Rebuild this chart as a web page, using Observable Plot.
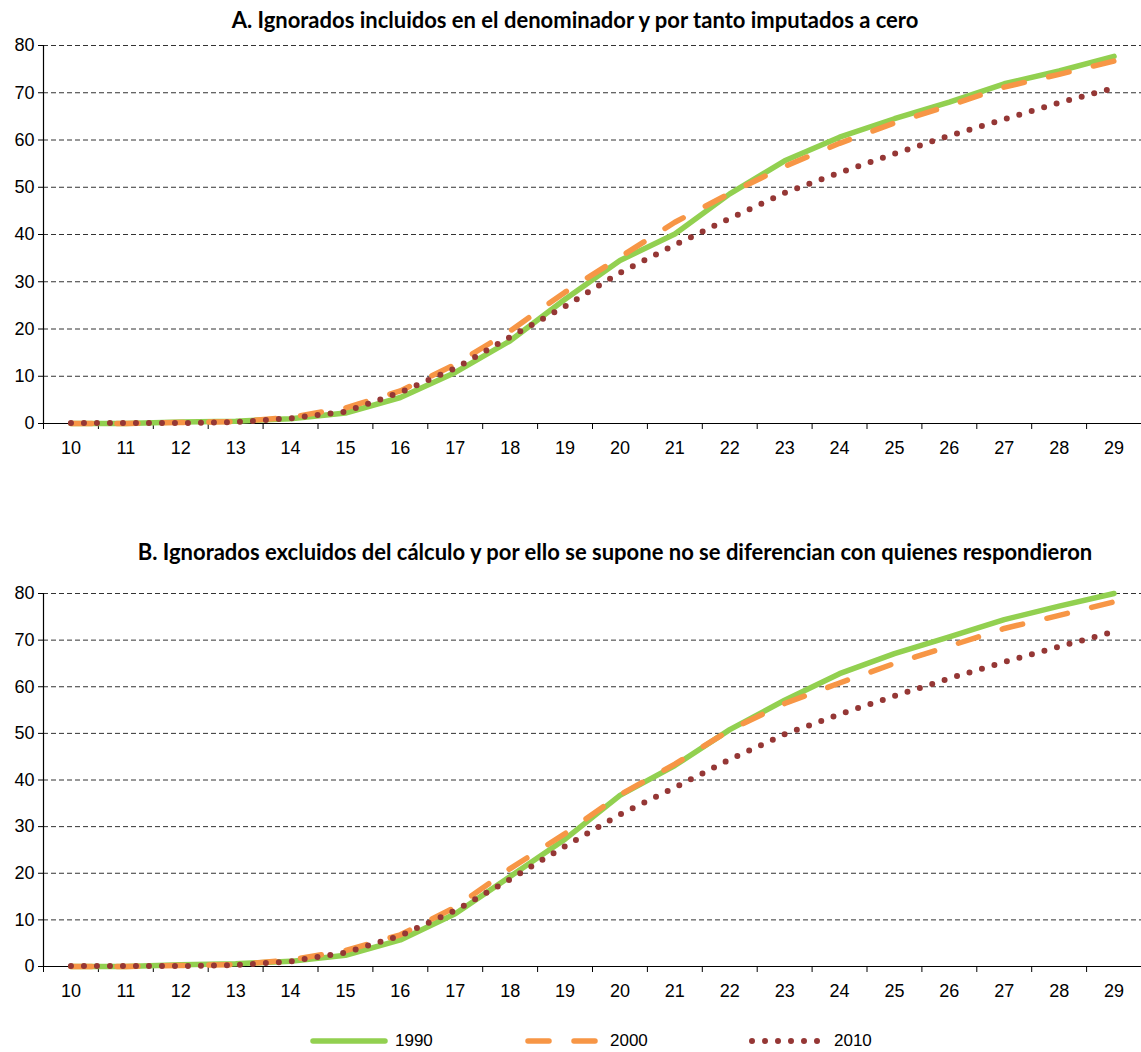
<!DOCTYPE html>
<html><head><meta charset="utf-8">
<script src="https://cdn.jsdelivr.net/npm/d3@7"></script>
<script src="https://cdn.jsdelivr.net/npm/@observablehq/plot@0.6"></script>
<style>
body{margin:0;background:#fff;width:1141px;height:1052px;position:relative;overflow:hidden;font-family:"Liberation Sans",Arial,sans-serif;color:#000}
.title{position:absolute;z-index:5;font-family:Lato,"Open Sans",sans-serif;font-weight:700;font-size:22px;white-space:nowrap;transform:translate(-50%,-50%);color:#000}
.panel{position:absolute;left:0}
.leg{position:absolute;top:1031px;height:20px;display:flex;align-items:center;font-size:17px}
.leg svg{margin-right:7px}
</style></head><body>
<div class="panel" id="pA" style="top:0px"></div>
<div class="panel" id="pB" style="top:520px"></div>
<div class="title" id="tA" style="left:575px;top:19px"></div>
<div class="title" id="tB" style="left:615px;top:551px"></div>
<div id="legend"></div>
<script>
const ages = [10,11,12,13,14,15,16,17,18,19,20,21,22,23,24,25,26,27,28,29];
const seriesNames = ["1990","2000","2010"];
const titleA = "A. Ignorados incluidos en el denominador y por tanto imputados a cero";
const titleB = "B. Ignorados excluidos del cálculo y por ello se supone no se diferencian con quienes respondieron";
const yTicks = [0,10,20,30,40,50,60,70,80];

const A1990 = [0,0,0.3,0.5,1.0,2.2,5.5,10.8,17.5,26.3,34.5,40.1,48.6,55.6,60.6,64.5,68.0,71.9,74.6,77.7];
const A2000 = [0,0,0.2,0.4,1.3,3.3,6.9,12.5,19.6,27.8,35.2,42.6,48.7,54.4,59.3,63.6,67.3,71.2,73.9,76.7];
const A2010 = [0.1,0.1,0.1,0.3,1.1,2.5,6.6,11.7,18.3,24.8,31.9,37.8,43.4,48.8,53.1,57.1,60.9,64.4,67.9,71.0];

const B1990 = [0,0,0.4,0.6,1.1,2.4,5.7,11.3,19.3,27.3,36.7,43.1,50.8,57.1,62.8,67.1,70.7,74.4,77.3,80.0];
const B2000 = [0,0,0.2,0.4,1.4,3.4,6.8,12.7,21.0,28.5,36.8,43.4,50.7,56.4,60.8,65.0,68.7,72.5,75.3,78.2];
const B2010 = [0.1,0.1,0.1,0.3,1.1,3.0,6.6,12.0,18.7,25.8,32.6,38.4,44.4,49.8,54.1,58.0,61.8,65.3,68.6,71.8];

const styles = {
  "1990": {stroke:"#92D050", strokeWidth:5.5, strokeDasharray:null},
  "2000": {stroke:"#F79646", strokeWidth:5.5, strokeDasharray:"21,25"},
  "2010": {stroke:"#953735", strokeWidth:6, strokeDasharray:"0,13"}
};

function rows(arr){ return ages.map((a,i)=>({age:a, value:arr[i]})); }

function panel(vals, height, marginTop, marginBottom){
  const bounds = d3.range(9.5, 30, 1);
  const marks = [
    Plot.gridY(yTicks.slice(1), {stroke:"#333", strokeOpacity:1, strokeDasharray:"5,3", strokeWidth:1}),
    Plot.axisY(yTicks, {tickSize:5, tickPadding:4, fontSize:18, label:null}),
    Plot.axisX(bounds, {tickSize:6, tickFormat:()=>"", anchor:"bottom", label:null}),
    Plot.axisX(ages, {tickSize:0, tickPadding:18, fontSize:18, anchor:"bottom", label:null}),
    Plot.ruleY([0], {stroke:"#000", strokeWidth:1.2}),
    Plot.ruleX([9.5], {stroke:"#000", strokeWidth:1.2})
  ];
  seriesNames.forEach((s,k)=>{
    const st = styles[s];
    marks.push(Plot.line(rows(vals[k]), {x:"age", y:"value", stroke:st.stroke, strokeWidth:st.strokeWidth,
      strokeDasharray:st.strokeDasharray, strokeLinecap:"round", strokeLinejoin:"round"}));
  });
  return Plot.plot({
    width:1141, height, marginLeft:43, marginRight:0, marginTop, marginBottom,
    style:{fontFamily:'"Liberation Sans",Arial,sans-serif', fontSize:"18px", color:"#000", background:"transparent", overflow:"visible"},
    x:{type:"linear", domain:[9.5,29.5], label:null},
    y:{domain:[0,80], label:null},
    marks
  });
}

document.getElementById("tA").textContent = titleA;
document.getElementById("tB").textContent = titleB;
document.getElementById("pA").appendChild(panel([A1990,A2000,A2010], 470, 45, 47));
document.getElementById("pB").appendChild(panel([B1990,B2000,B2010], 490, 73, 44));

const legendPos = [313, 528, 752];
const leg = document.getElementById("legend");
seriesNames.forEach((s,k)=>{
  const st = styles[s];
  const div = document.createElement("div");
  div.className = "leg";
  div.style.left = (legendPos[k]-3) + "px";
  const dash = st.strokeDasharray ? `stroke-dasharray="${st.strokeDasharray}"` : "";
  div.innerHTML = `<svg width="78" height="20"><line x1="3" x2="${k===2?71:75}" y1="10" y2="10" stroke="${st.stroke}" stroke-width="${st.strokeWidth}" stroke-linecap="round" ${dash}/></svg><span>${s}</span>`;
  leg.appendChild(div);
});
</script>
</body></html>
